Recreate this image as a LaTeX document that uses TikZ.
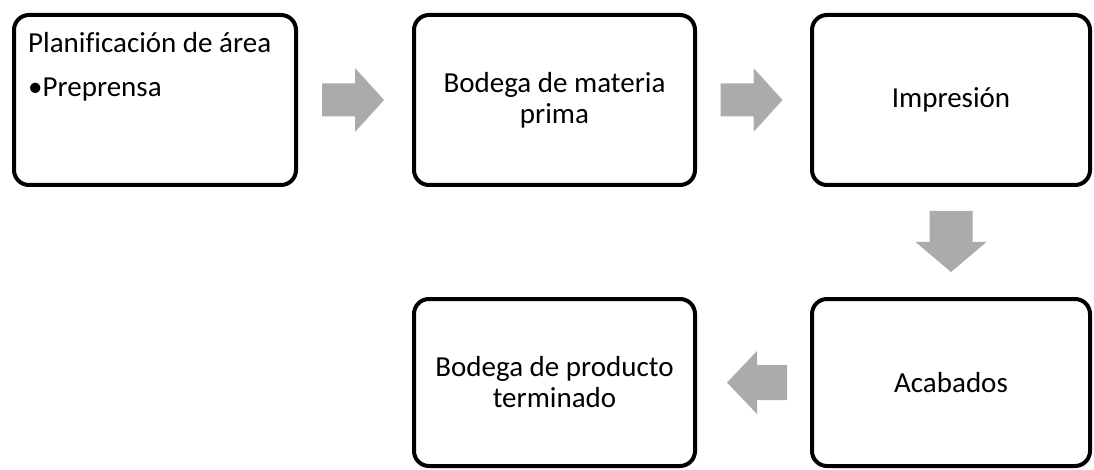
\documentclass[tikz,border=0pt]{standalone}
\usepackage{fontspec}
\setmainfont{Carlito}[Ligatures=CommonOff]
\begin{document}
\begin{tikzpicture}[x=1pt,y=-1pt,
  box/.style={draw=black,line width=4pt,rounded corners=15pt,fill=white,
    inner sep=0pt,align=center,font=\fontsize{29}{31}\selectfont},
  arr/.style={fill=black!33}]
\useasboundingbox (0,0) rectangle (1094,470);
\node[box,minimum width=282pt,minimum height=170pt] (b1) at (155,100) {};
\node[box,minimum width=281pt,minimum height=170pt] (b2) at (554.5,100) {Bodega de materia\\prima};
\node[box,minimum width=278pt,minimum height=170pt] (b3) at (951,100) {Impresión};
\node[box,minimum width=278pt,minimum height=167pt] (b4) at (951,382.5) {Acabados};
\node[box,minimum width=281pt,minimum height=167pt] (b5) at (554.5,382.5) {Bodega de producto\\terminado};
\node[anchor=base west,inner sep=0pt,font=\fontsize{29}{31}\selectfont] (t1) at (28,53) {Planificación de área};
\node[anchor=base west,inner sep=0pt,font=\fontsize{29}{31}\selectfont] (t2) at (28,97) {•Preprensa};
% arrows
\path (b1.east) -- (b2.west) coordinate[midway] (m1);
\path (b2.east) -- (b3.west) coordinate[midway] (m2);
\path (b3.south) -- (b4.north) coordinate[midway] (m3);
\path (b5.east) -- (b4.west) coordinate[midway] (m4);
\fill[arr] ([shift={(-33,-16.5)}]m1) -- ([shift={(0,-16.5)}]m1) -- ([shift={(0,-32)}]m1)
  -- ([shift={(29,0)}]m1) -- ([shift={(0,32)}]m1) -- ([shift={(0,16.5)}]m1)
  -- ([shift={(-33,16.5)}]m1) -- cycle;
\fill[arr] ([shift={(-33,-16.5)}]m2) -- ([shift={(0,-16.5)}]m2) -- ([shift={(0,-32)}]m2)
  -- ([shift={(29,0)}]m2) -- ([shift={(0,32)}]m2) -- ([shift={(0,16.5)}]m2)
  -- ([shift={(-33,16.5)}]m2) -- cycle;
\fill[arr] ([shift={(-21.5,-31)}]m3) -- ([shift={(-21.5,0)}]m3) -- ([shift={(-35.5,0)}]m3)
  -- ([shift={(0,30)}]m3) -- ([shift={(35.5,0)}]m3) -- ([shift={(21.5,0)}]m3)
  -- ([shift={(21.5,-31)}]m3) -- cycle;
\fill[arr] ([shift={(33.5,-17.5)}]m4) -- ([shift={(3.5,-17.5)}]m4) -- ([shift={(3.5,-31.5)}]m4)
  -- ([shift={(-26.5,0)}]m4) -- ([shift={(3.5,31.5)}]m4) -- ([shift={(3.5,17.5)}]m4)
  -- ([shift={(33.5,17.5)}]m4) -- cycle;
\end{tikzpicture}
\end{document}
